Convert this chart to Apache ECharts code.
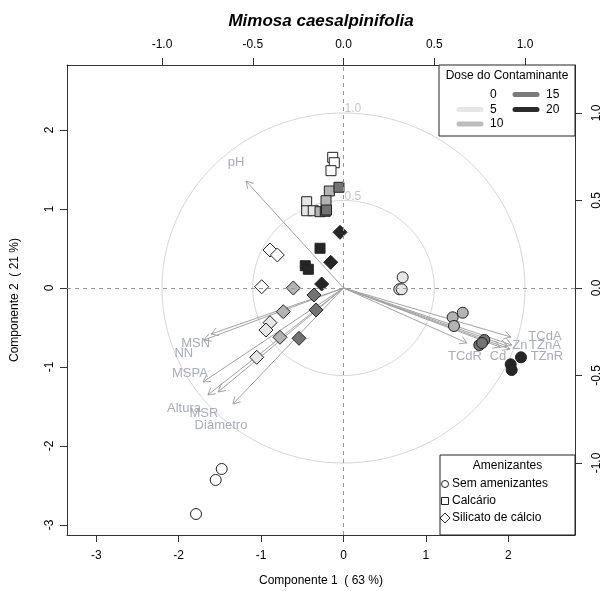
<!DOCTYPE html>
<html><head><meta charset="utf-8">
<script src="https://cdn.jsdelivr.net/npm/echarts@6/dist/echarts.min.js"></script>
<style>html,body{margin:0;padding:0;background:#fff}#c{width:603px;height:591px}</style>
</head><body><div id="c"></div>
<script>
// ---------- data ----------
const titleText = 'Mimosa caesalpinifolia';
const xTitle = 'Componente 1  ( 63 %)';
const yTitle = 'Componente 2  ( 21 %)';
const scoreTicks = [-3, -2, -1, 0, 1, 2];
const loadTicks = [-1, -0.5, 0, 0.5, 1];
const circleRadii = [0.5, 1.0];
const doseLevels = [0, 5, 10, 15, 20];
const amendNames = ['Sem amenizantes', 'Calcário', 'Silicato de cálcio'];
const pointDose = [0,0,0, 5,5,5, 10,10,10, 15,15,15, 20,20,20];
// scores (Componente 1, Componente 2)
const semX = [-1.478,-1.551,-1.790, 0.718,0.677,0.706, 1.325,1.447,1.341, 1.709,1.648,1.681, 2.154,2.029,2.041];
const semY = [-2.291,-2.430,-2.861, 0.135,-0.016,-0.016, -0.371,-0.313,-0.481, -0.658,-0.722,-0.696, -0.877,-0.966,-1.038];
const calX = [-0.131,-0.112,-0.152, -0.447,-0.447,-0.367, -0.172,-0.212,-0.285, -0.055,-0.221,-0.206, -0.285,-0.464,-0.427];
const calY = [1.654,1.586,1.485, 1.092,0.978,0.978, 1.228,1.105,0.966, 1.275,0.971,0.987, 0.503,0.282,0.237];
const silX = [-0.892,-0.803,-0.993, -0.892,-0.941,-1.053, -0.609,-0.731,-0.771, -0.358,-0.334,-0.540, -0.042,-0.155,-0.265];
const silY = [0.481,0.418,0.016, -0.439,-0.532,-0.877, 0.000,-0.300,-0.624, -0.089,-0.278,-0.637, 0.705,0.325,0.051];
// variable loadings (arrow tips) and label anchors
const varNames = ['pH','MSN','NN','MSPA','Altura','MSR','Diâmetro','TCdA','TZnA','Zn','Cd','TZnR','TCdR'];
const loadX = [-0.537,-0.730,-0.769,-0.774,-0.747,-0.691,-0.609, 0.923,0.928,0.901,0.862,0.917,0.680];
const loadY = [0.611,-0.263,-0.297,-0.537,-0.611,-0.594,-0.663, -0.280,-0.326,-0.331,-0.337,-0.349,-0.314];
const labelX = [-0.592,-0.815,-0.880,-0.846,-0.879,-0.769,-0.675, 1.110,1.110,0.972,0.851,1.121,0.669];
const labelY = [0.718,-0.314,-0.371,-0.486,-0.686,-0.714,-0.783, -0.274,-0.326,-0.326,-0.389,-0.389,-0.389];

// ---------- style ----------
const FONT = 'Liberation Sans, Arial, sans-serif';
const doseColors = {0:'#ffffff',5:'#e6e6e6',10:'#b3b3b3',15:'#737373',20:'#262626'};
const legendLineColors = {0:'#ffffff',5:'#e6e6e6',10:'#bdbdbd',15:'#7a7a7a',20:'#2a2a2a'};
const symbols = ['circle','rect','diamond'];
const symSizes = [11, 10, 14];

const chart = echarts.init(document.getElementById('c'), null, {renderer:'canvas'});

function mkPoints(xs, ys) {
  return xs.map((x, i) => ({value:[x, ys[i]], itemStyle:{color: doseColors[pointDose[i]]}}));
}
const groups = [[semX, semY],[calX, calY],[silX, silY]];

function circleItem(params, api) {
  const r = api.value(2);
  const c = api.coord([0, 0]);
  const s = api.size([r, r]);
  const pts = [];
  for (let i = 0; i <= 200; i++) {
    const a = i / 200 * 2 * Math.PI;
    pts.push([c[0] + s[0] * Math.cos(a), c[1] + s[1] * Math.sin(a)]);
  }
  return {type:'group', children:[
    {type:'polyline', shape:{points:pts}, style:{stroke:'#d6d6d6', fill:null, lineWidth:1}},
    {type:'text', x:c[0] + 1, y:c[1] - s[1] + 2, style:{text:r.toFixed(1), fill:'#c4c4c4', font:'12px ' + FONT, align:'left', verticalAlign:'bottom'}}
  ]};
}

function arrowItem(params, api) {
  const o = api.coord([0, 0]);
  const t = api.coord([api.value(0), api.value(1)]);
  const l = api.coord([api.value(2), api.value(3)]);
  const name = varNames[api.value(4)];
  const ang = Math.atan2(t[1] - o[1], t[0] - o[0]);
  const hl = 8, ha = Math.PI / 6;
  const h1 = [t[0] - hl * Math.cos(ang - ha), t[1] - hl * Math.sin(ang - ha)];
  const h2 = [t[0] - hl * Math.cos(ang + ha), t[1] - hl * Math.sin(ang + ha)];
  return {type:'group', children:[
    {type:'line', shape:{x1:o[0], y1:o[1], x2:t[0], y2:t[1]}, style:{stroke:'#a3a3a3', lineWidth:1}},
    {type:'polyline', shape:{points:[h1, t, h2]}, style:{stroke:'#a3a3a3', fill:null, lineWidth:1}},
    {type:'text', x:l[0], y:l[1], style:{text:name, fill:'#a7acb7', font:'13px ' + FONT, align:'center', verticalAlign:'middle'}}
  ]};
}

const axisLineStyle = {onZero:false, lineStyle:{color:'#333', width:1}};
const tickStyle = {show:true, inside:false, length:7, lineStyle:{color:'#333'}};
const labStyle = {color:'#000', fontSize:12, fontFamily:FONT};
const fmtLoad = v => (Math.abs(v) < 1e-9 ? '0.0' : v.toFixed(1));

const series = [];
series.push({
  type:'custom', xAxisIndex:1, yAxisIndex:1, renderItem:circleItem, z:1, silent:true,
  encode:{x:0, y:1}, data: circleRadii.map(r => [0, 0, r]), clip:false
});
series.push({
  type:'scatter', xAxisIndex:0, yAxisIndex:0, data:[], z:2, silent:true,
  markLine:{silent:true, symbol:['none','none'], label:{show:false},
    lineStyle:{color:'#9a9a9a', type:[4,4], width:1},
    data:[{xAxis:0},{yAxis:0}]}
});
series.push({
  type:'custom', xAxisIndex:1, yAxisIndex:1, renderItem:arrowItem, z:3, silent:true, clip:false,
  encode:{x:0, y:1},
  data: varNames.map((n, i) => [loadX[i], loadY[i], labelX[i], labelY[i], i])
});
groups.forEach((g, k) => {
  series.push({
    type:'scatter', name:amendNames[k], xAxisIndex:0, yAxisIndex:0, z:4,
    symbol:symbols[k], symbolSize:symSizes[k],
    itemStyle:{borderColor:'#222', borderWidth:1, opacity:1},
    data: mkPoints(g[0], g[1])
  });
});

// legends (drawn with graphic)
const L1 = {x:439, y:65, w:136, h:71};
const L2 = {x:440, y:455, w:135, h:80};
const legendEls = [];
legendEls.push({type:'rect', shape:{x:L1.x, y:L1.y, width:L1.w, height:L1.h}, style:{fill:'#fff', stroke:'#222', lineWidth:1}, z:100});
legendEls.push({type:'text', x:L1.x + L1.w/2, y:76, style:{text:'Dose do Contaminante', font:'12px ' + FONT, fill:'#000', align:'center', verticalAlign:'middle'}, z:101});
const legPos = [[0, 94.5],[0, 109.5],[0, 124],[1, 94.5],[1, 109.5]];
doseLevels.forEach((d, i) => {
  const col = legPos[i][0], y = legPos[i][1];
  const lx = col === 0 ? 457 : 513;
  legendEls.push({type:'line', shape:{x1:lx + 2, y1:y, x2:lx + 24, y2:y}, style:{stroke:legendLineColors[d], lineWidth:5, lineCap:'round'}, z:101});
  legendEls.push({type:'text', x:lx + 33, y:y, style:{text:String(d), font:'12px ' + FONT, fill:'#000', align:'left', verticalAlign:'middle'}, z:101});
});
legendEls.push({type:'rect', shape:{x:L2.x, y:L2.y, width:L2.w, height:L2.h}, style:{fill:'#fff', stroke:'#222', lineWidth:1}, z:100});
legendEls.push({type:'text', x:L2.x + L2.w/2, y:466, style:{text:'Amenizantes', font:'12px ' + FONT, fill:'#000', align:'center', verticalAlign:'middle'}, z:101});
const l2y = [484, 501, 518];
amendNames.forEach((n, k) => {
  const y = l2y[k], cx = 445;
  let shape;
  if (k === 0) shape = {type:'circle', shape:{cx:cx, cy:y, r:3.5}};
  else if (k === 1) shape = {type:'rect', shape:{x:cx - 3.5, y:y - 3.5, width:7, height:7}};
  else shape = {type:'polygon', shape:{points:[[cx, y - 5],[cx + 5, y],[cx, y + 5],[cx - 5, y]]}};
  shape.style = {fill:'#fff', stroke:'#222', lineWidth:1}; shape.z = 101;
  legendEls.push(shape);
  legendEls.push({type:'text', x:452, y:y, style:{text:n, font:'12px ' + FONT, fill:'#000', align:'left', verticalAlign:'middle'}, z:101});
});
legendEls.push({type:'text', x:321, y:21, style:{text:titleText, font:'italic bold 17px ' + FONT, fill:'#000', align:'center', verticalAlign:'middle'}, z:101});

const option = {
  animation:false,
  backgroundColor:'#fff',
  grid:{left:67, right:28, top:65, bottom:56, containLabel:false, outerBoundsMode:'none'},
  xAxis:[
    {type:'value', position:'bottom', min:(67-343.5)/82.4, max:(575-343.5)/82.4,
     axisLine:axisLineStyle, splitLine:{show:false},
     axisTick:Object.assign({customValues:scoreTicks}, tickStyle),
     axisLabel:Object.assign({customValues:scoreTicks, margin:15, formatter:v => String(Math.round(v))}, labStyle),
     name:xTitle, nameLocation:'middle', nameGap:40, nameTextStyle:{color:'#000', fontSize:12, fontFamily:FONT}},
    {type:'value', position:'top', min:(67-343.5)/181.5, max:(575-343.5)/181.5,
     axisLine:axisLineStyle, splitLine:{show:false},
     axisTick:Object.assign({customValues:loadTicks}, tickStyle),
     axisLabel:Object.assign({customValues:loadTicks, margin:14, formatter:fmtLoad}, labStyle)}
  ],
  yAxis:[
    {type:'value', position:'left', min:(288-535)/79, max:(288-65)/79,
     axisLine:axisLineStyle, splitLine:{show:false},
     axisTick:Object.assign({customValues:scoreTicks}, tickStyle),
     axisLabel:Object.assign({customValues:scoreTicks, margin:11, rotate:90, formatter:v => String(Math.round(v))}, labStyle),
     name:yTitle, nameLocation:'middle', nameGap:46, nameRotate:90, nameTextStyle:{color:'#000', fontSize:12, fontFamily:FONT}},
    {type:'value', position:'right', min:(288-535)/175, max:(288-65)/175,
     axisLine:axisLineStyle, splitLine:{show:false},
     axisTick:Object.assign({customValues:loadTicks}, tickStyle),
     axisLabel:Object.assign({customValues:loadTicks, margin:16, rotate:90, formatter:fmtLoad}, labStyle)}
  ],
  series:series,
  graphic:{elements:legendEls}
};
chart.setOption(option);
</script></body></html>
